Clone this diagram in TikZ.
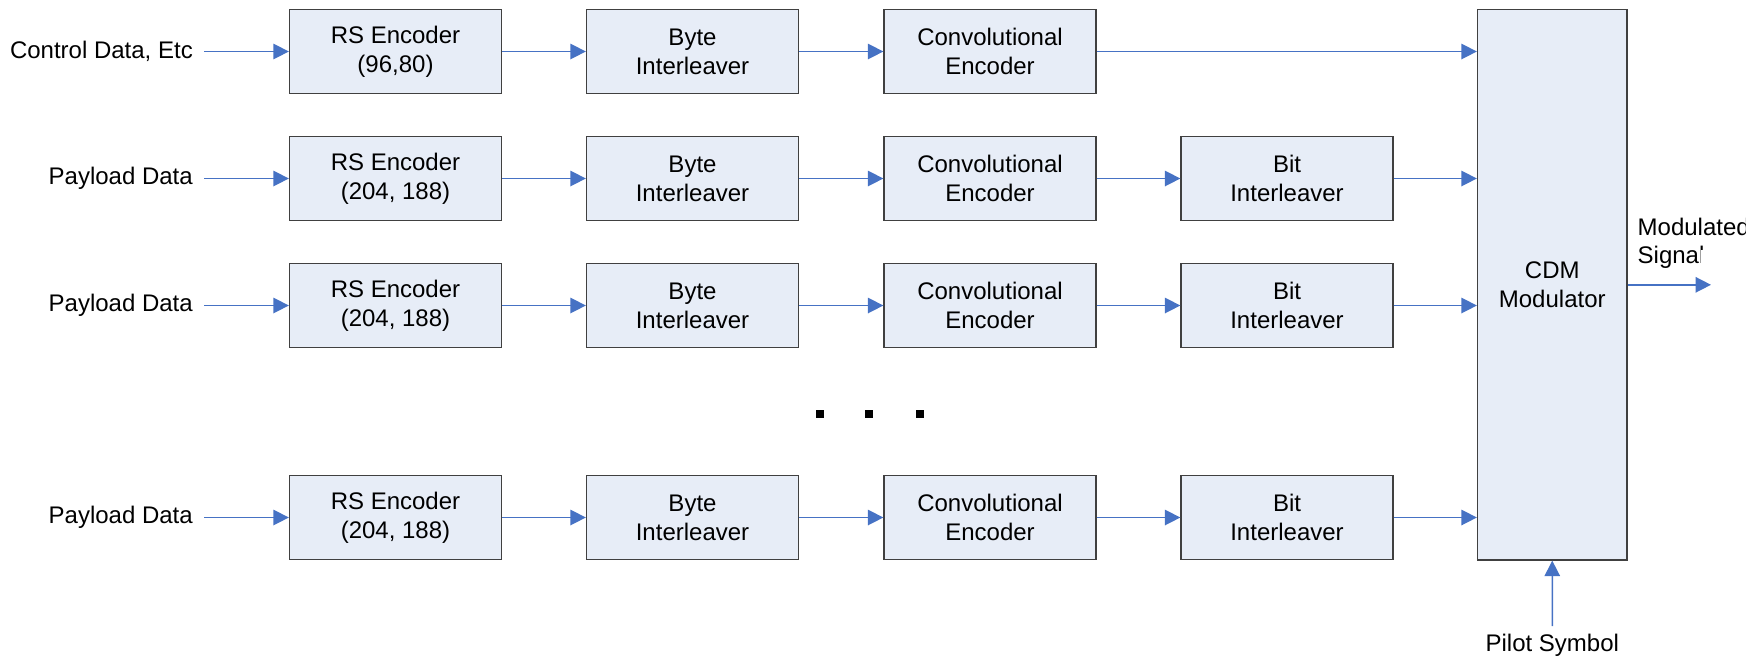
\documentclass[tikz,border=0pt]{standalone}
\usepackage{fontspec}
\setmainfont{Liberation Sans}
\usetikzlibrary{arrows.meta}
\definecolor{boxfill}{RGB}{231,237,247}
\definecolor{boxline}{RGB}{64,64,64}
\definecolor{flow}{RGB}{70,114,196}
\tikzset{
  blk/.style={draw=boxline, line width=1.3pt, fill=boxfill, minimum width=212pt,
    minimum height=84pt, inner sep=0pt, align=center,
    font=\fontsize{24}{29}\selectfont},
  lbl/.style={inner sep=0pt, font=\fontsize{24}{29}\selectfont},
  inlbl/.style={lbl, anchor=east, inner xsep=11pt},
  link/.style={draw=flow, line width=1.5pt, -{Triangle[length=15.5pt,width=15.5pt]}},
  dotmark/.style={fill=black, minimum size=8pt, inner sep=0pt}
}
\begin{document}
\begin{tikzpicture}[x=1pt, y=-1pt]
\useasboundingbox (0,0) rectangle (1763,657);

% column centres of the processing chain
\def\xa{395.5}\def\xb{692.5}\def\xc{990}\def\xd{1287}

% modulator
\node[blk, minimum width=149.5pt, minimum height=550.5pt] (cdm) at (1552.25,284.75) {CDM\\Modulator};

% control branch
\node[blk] (rs1) at (\xa,51.5) {RS Encoder\\(96,80)};
\node[blk] (bi1) at (\xb,51.5) {Byte\\Interleaver};
\node[blk] (ce1) at (\xc,51.5) {Convolutional\\Encoder};
\node[inlbl] (in1) at (204,51.5) {Control Data, Etc};

% payload branches
\foreach \r/\y in {2/178.5, 3/305.5, 4/517.5}{
  \node[blk] (rs\r) at (\xa,\y) {RS Encoder\\(204, 188)};
  \node[blk] (bi\r) at (\xb,\y) {Byte\\Interleaver};
  \node[blk] (ce\r) at (\xc,\y) {Convolutional\\Encoder};
  \node[blk] (bt\r) at (\xd,\y) {Bit\\Interleaver};
  \node[inlbl] (in\r) at (204,\y) {Payload Data};
}

% connectors
\draw[link] (in1) -- (rs1);
\draw[link] (rs1) -- (bi1);
\draw[link] (bi1) -- (ce1);
\draw[link] (ce1.east) -- (ce1.east -| cdm.west);
\foreach \r in {2,3,4}{
  \draw[link] (in\r) -- (rs\r);
  \draw[link] (rs\r) -- (bi\r);
  \draw[link] (bi\r) -- (ce\r);
  \draw[link] (ce\r) -- (bt\r);
  \draw[link] (bt\r.east) -- (bt\r.east -| cdm.west);
}

% ellipsis between branches
\node[dotmark] (d1) at (819.7,413.5) {};
\node[dotmark] (d2) at (869.2,413.5) {};
\node[dotmark] (d3) at (919.7,413.5) {};

% pilot input
\node[lbl, anchor=base, inner ysep=8pt] (pilot) at (1552.3,651.7) {Pilot Symbol};
\draw[link] (pilot.north) -- (cdm.south);

% output, its label cut off by a narrow text frame
\coordinate (out) at (1711,284.8);
\draw[link] (out -| cdm.east) -- (out);
\begin{scope}
  \clip (1630,200) -- (1745,200) -- (1745,249) -- (1700.5,249) -- (1700.5,280) -- (1630,280) -- cycle;
  \node[lbl, anchor=base west] (mod1) at (1637.5,235) {Modulated};
  \node[lbl, anchor=base west] (mod2) at (1637.5,263.5) {Signal};
\end{scope}
\end{tikzpicture}
\end{document}
